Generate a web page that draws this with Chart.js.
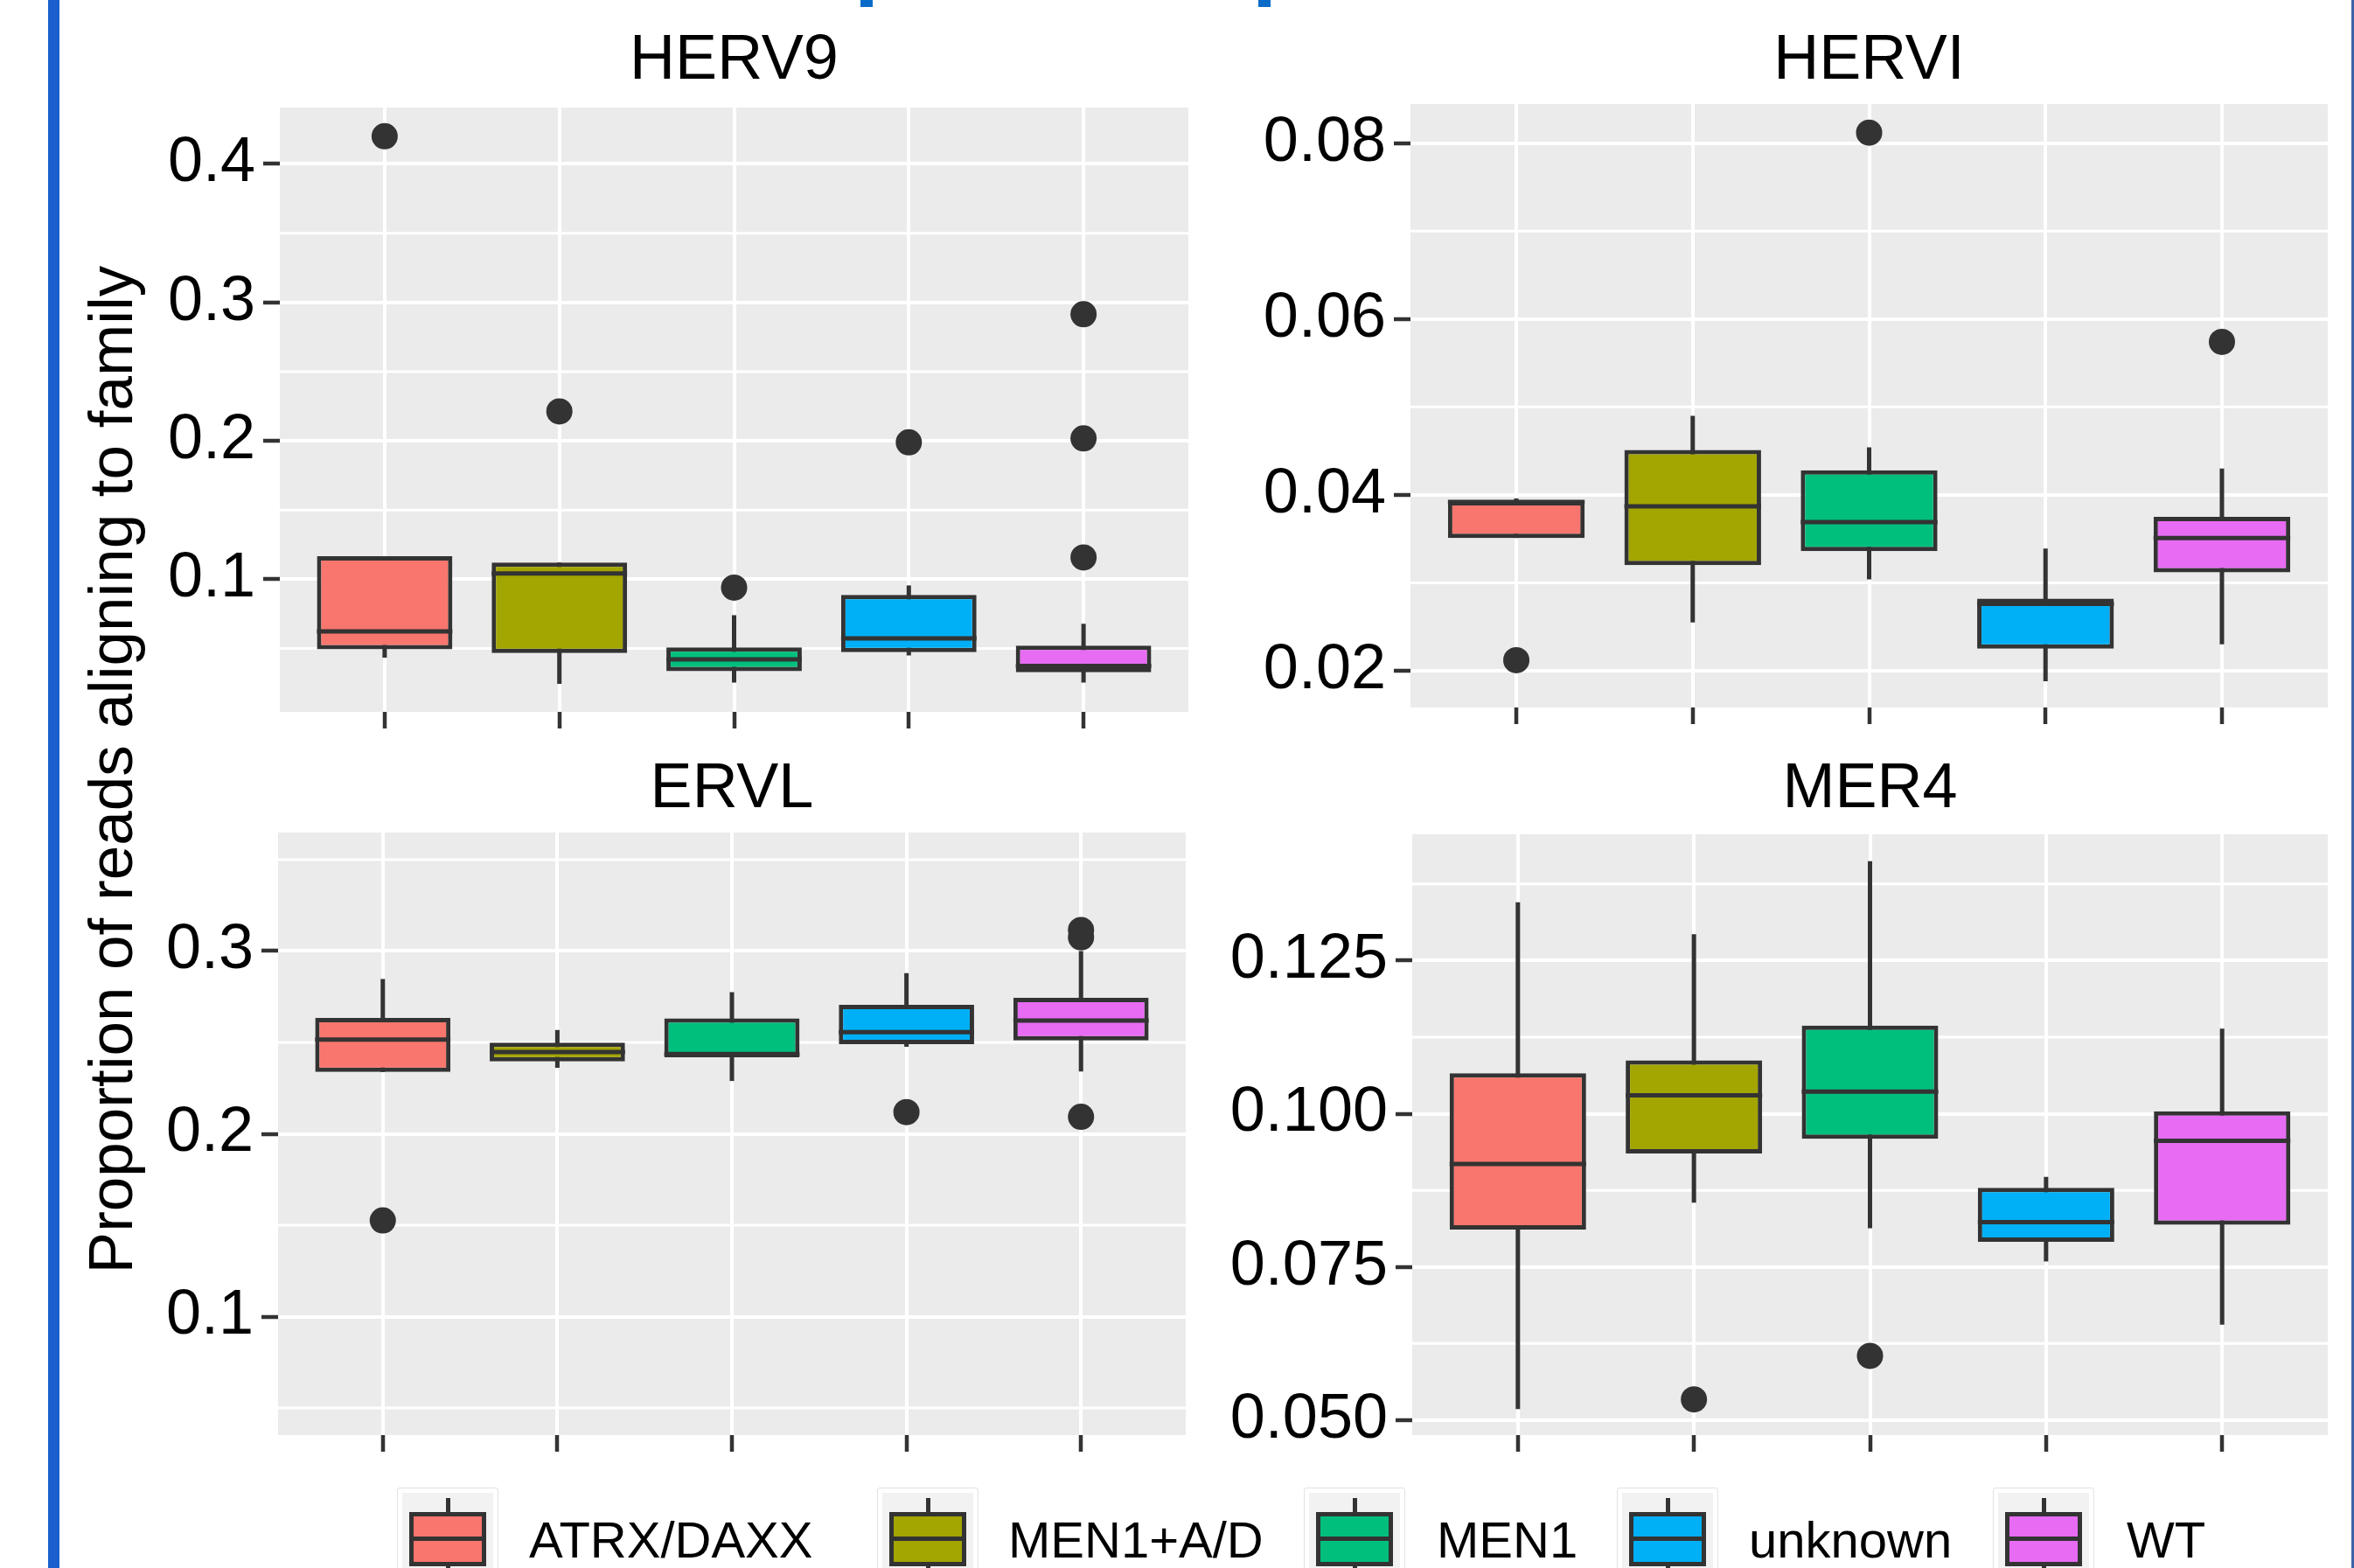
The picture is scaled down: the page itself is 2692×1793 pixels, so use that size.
<!DOCTYPE html>
<html>
<head>
<meta charset="utf-8">
<title>Reads aligning to family</title>
<script src="https://cdn.jsdelivr.net/npm/chart.js@4.4.1/dist/chart.umd.min.js"></script>
<style>
  html, body { margin: 0; padding: 0; background: #fff; }
  body {
    width: 2692px; height: 1793px; position: relative; overflow: hidden;
    font-family: "Liberation Sans", Arial, sans-serif;
  }
  canvas { position: absolute; }
  .deco { position: absolute; }
  #ytitle {
    position: absolute; left: -573px; top: 844px; width: 1400px; height: 72px;
    line-height: 72px; font-size: 71px; text-align: center; color: #000;
    transform: rotate(-90deg); white-space: nowrap;
  }
  .key-bg {
    position: absolute; top: 1701px; width: 114px; height: 120px;
    background: #F2F2F2; border: 1px solid #e2e2e2; border-radius: 3px;
    box-shadow: inset 0 0 0 5px #fff;
  }
  .key-box {
    position: absolute; top: 1729px; width: 88px; height: 62px; box-sizing: border-box;
    border: 5px solid #333;
  }
  .key-line { position: absolute; background: #333; }
  .key-label {
    position: absolute; top: 1732px; font-size: 58px; line-height: 58px; color: #000; white-space: nowrap;
  }
</style>
</head>
<body>

<div class="deco" style="left:55px;top:0;width:13px;height:1793px;background:#1b5fce"></div>
<div class="deco" style="left:984px;top:0;width:14px;height:8px;background:#0b6bc9"></div>
<div class="deco" style="left:1439px;top:0;width:14px;height:8px;background:#0b6bc9"></div>
<div class="deco" style="left:2689px;top:0;width:3px;height:1793px;background:#3c64a8"></div>

<div id="ytitle">Proportion of reads aligning to family</div>

<canvas id="c-herv9"></canvas>
<canvas id="c-hervi"></canvas>
<canvas id="c-ervl"></canvas>
<canvas id="c-mer4"></canvas>

<div id="legend"></div>

<script>
// Groups (fill colours follow ggplot's default hue palette)
const groups = ['ATRX/DAXX', 'MEN1+A/D', 'MEN1', 'unknown', 'WT'];
const groupColors = ['#F8766D', '#A3A500', '#00BF7D', '#00B0F6', '#E76BF3'];

// HERV9
const herv9Low  = [0.0433, 0.0243, 0.0253, 0.0449, 0.0253];
const herv9Q1   = [0.0493, 0.0466, 0.0335, 0.0472, 0.0328];
const herv9Med  = [0.0623, 0.1041, 0.0421, 0.0572, 0.0373];
const herv9Q3   = [0.1166, 0.1120, 0.0507, 0.0887, 0.0520];
const herv9High = [0.1166, 0.1120, 0.0740, 0.0955, 0.0678];
const herv9Out  = [[0.420], [0.2212], [0.0939], [0.1989], [0.2914, 0.2017, 0.1157]];
const herv9Ticks = [0.1, 0.2, 0.3, 0.4];
const herv9TickLabels = ['0.1', '0.2', '0.3', '0.4'];

// HERVI
const herviLow  = [0.0351, 0.0255, 0.0304, 0.0188, 0.0230];
const herviQ1   = [0.0351, 0.0320, 0.0336, 0.0225, 0.0312];
const herviMed  = [0.0392, 0.0387, 0.0369, 0.0276, 0.0351];
const herviQ3   = [0.0393, 0.0451, 0.0428, 0.0282, 0.0375];
const herviHigh = [0.0396, 0.0490, 0.0454, 0.0339, 0.0430];
const herviOut  = [[0.0212], [], [0.0812], [], [0.0574]];
const herviTicks = [0.02, 0.04, 0.06, 0.08];
const herviTickLabels = ['0.02', '0.04', '0.06', '0.08'];

// ERVL
const ervlLow  = [0.2338, 0.2361, 0.2289, 0.2476, 0.2341];
const ervlQ1   = [0.2338, 0.2396, 0.2419, 0.2490, 0.2511];
const ervlMed  = [0.2516, 0.2447, 0.2436, 0.2556, 0.2620];
const ervlQ3   = [0.2634, 0.2499, 0.2632, 0.2706, 0.2744];
const ervlHigh = [0.2847, 0.2568, 0.2775, 0.2879, 0.3000];
const ervlOut  = [[0.1526], [], [], [0.2119], [0.3115, 0.3075, 0.2093]];
const ervlTicks = [0.1, 0.2, 0.3];
const ervlTickLabels = ['0.1', '0.2', '0.3'];

// MER4
const mer4Low  = [0.0518, 0.0855, 0.0813, 0.0759, 0.0656];
const mer4Q1   = [0.0811, 0.0935, 0.0959, 0.0791, 0.0819];
const mer4Med  = [0.0918, 0.1030, 0.1036, 0.0823, 0.0956];
const mer4Q3   = [0.1066, 0.1087, 0.1144, 0.0879, 0.1004];
const mer4High = [0.1345, 0.1293, 0.1412, 0.0897, 0.1139];
const mer4Out  = [[], [0.0534], [0.0605], [], []];
const mer4Ticks = [0.050, 0.075, 0.100, 0.125];
const mer4TickLabels = ['0.050', '0.075', '0.100', '0.125'];

Chart.defaults.font.family = "'Liberation Sans', Arial, sans-serif";

const DARK = '#333333';
const LW = 5;

// panel background, minor grid, whiskers and medians
function boxPlugin(stats, ticks) {
  return {
    id: 'boxParts',
    beforeDraw(chart) {
      const { ctx, chartArea: a, scales: { y } } = chart;
      ctx.save();
      ctx.fillStyle = '#EBEBEB';
      ctx.fillRect(a.left, a.top, a.right - a.left, a.bottom - a.top);
      // minor lines halfway between the major ones
      const step = ticks[1] - ticks[0];
      const minors = ticks.map(v => v - step / 2).concat([ticks[ticks.length - 1] + step / 2]);
      ctx.strokeStyle = '#fff';
      ctx.lineWidth = 3;
      minors.forEach(v => {
        if (v <= y.min || v >= y.max) return;
        const py = y.getPixelForValue(v);
        ctx.beginPath();
        ctx.moveTo(a.left, py);
        ctx.lineTo(a.right, py);
        ctx.stroke();
      });
      ctx.restore();
    },
    beforeDatasetsDraw(chart) {
      const { ctx, scales: { x, y } } = chart;
      ctx.save();
      ctx.strokeStyle = DARK;
      ctx.lineWidth = LW;
      stats.low.forEach((lo, i) => {
        const px = x.getPixelForValue(i + 1);
        ctx.beginPath();
        ctx.moveTo(px, y.getPixelForValue(lo));
        ctx.lineTo(px, y.getPixelForValue(stats.high[i]));
        ctx.stroke();
      });
      ctx.restore();
    },
    afterDatasetsDraw(chart) {
      const { ctx, scales: { y } } = chart;
      const meta = chart.getDatasetMeta(0);
      ctx.save();
      ctx.strokeStyle = DARK;
      ctx.lineWidth = LW;
      meta.data.forEach((bar, i) => {
        const { x: bx, width } = bar.getProps(['x', 'width'], true);
        const py = y.getPixelForValue(stats.med[i]);
        ctx.beginPath();
        ctx.moveTo(bx - width / 2, py);
        ctx.lineTo(bx + width / 2, py);
        ctx.stroke();
      });
      ctx.restore();
    }
  };
}

function makePanel(id, title, stats, ticks, tickLabels, box) {
  const canvas = document.getElementById(id);
  canvas.width = box.width;
  canvas.height = box.height;
  canvas.style.left = box.left + 'px';
  canvas.style.top = box.top + 'px';

  const outliers = [];
  stats.out.forEach((vals, i) => vals.forEach(v => outliers.push({ x: i + 1, y: v })));

  return new Chart(canvas.getContext('2d'), {
    type: 'bar',
    data: {
      datasets: [{
        type: 'bar',
        data: groups.map((g, i) => ({ x: i + 1, y: [stats.q1[i], stats.q3[i]] })),
        backgroundColor: groupColors,
        borderColor: DARK,
        borderWidth: LW,
        borderSkipped: false,
        barPercentage: 0.775,
        categoryPercentage: 1,
        order: 1
      }, {
        type: 'scatter',
        data: outliers,
        pointRadius: 15,
        pointHoverRadius: 15,
        pointBackgroundColor: DARK,
        pointBorderWidth: 0,
        order: 0
      }]
    },
    options: {
      responsive: false,
      animation: false,
      layout: { padding: 0, autoPadding: false },
      plugins: {
        legend: { display: false },
        tooltip: { enabled: false },
        title: {
          display: true,
          text: title,
          fullSize: false,
          color: '#000',
          font: { size: 72, weight: 'normal' },
          padding: { top: box.padTop, bottom: box.padBottom }
        }
      },
      scales: {
        x: {
          type: 'linear',
          min: 0.4,
          max: 5.6,
          offset: false,
          afterBuildTicks: axis => { axis.ticks = groups.map((g, i) => ({ value: i + 1 })); },
          afterFit: axis => { axis.height = 70; },
          ticks: { display: false },
          grid: { offset: false, color: '#fff', lineWidth: 4, tickLength: 19, tickColor: DARK, tickWidth: 4.5 },
          border: { display: false }
        },
        y: {
          min: box.yMin,
          max: box.yMax,
          afterBuildTicks: axis => { axis.ticks = ticks.map(v => ({ value: v })); },
          afterFit: axis => { axis.width = 230; },
          ticks: {
            callback: (v, i) => tickLabels[i],
            color: '#000',
            font: { size: 72 },
            padding: 9,
            autoSkip: false
          },
          grid: { color: '#fff', lineWidth: 4, tickLength: 19, tickColor: DARK, tickWidth: 4.5 },
          border: { display: false }
        }
      }
    },
    plugins: [boxPlugin(stats, ticks)]
  });
}

makePanel('c-herv9', 'HERV9',
  { low: herv9Low, q1: herv9Q1, med: herv9Med, q3: herv9Q3, high: herv9High, out: herv9Out },
  herv9Ticks, herv9TickLabels,
  { left: 90, top: 0, width: 1269, height: 884, padTop: 27, padBottom: 9.6, yMin: 0.00415, yMax: 0.44075 });

makePanel('c-hervi', 'HERVI',
  { low: herviLow, q1: herviQ1, med: herviMed, q3: herviQ3, high: herviHigh, out: herviOut },
  herviTicks, herviTickLabels,
  { left: 1383, top: 0, width: 1279, height: 879, padTop: 27, padBottom: 5.6, yMin: 0.015823, yMax: 0.084445 });

makePanel('c-ervl', 'ERVL',
  { low: ervlLow, q1: ervlQ1, med: ervlMed, q3: ervlQ3, high: ervlHigh, out: ervlOut },
  ervlTicks, ervlTickLabels,
  { left: 88, top: 850, width: 1268, height: 861, padTop: 10, padBottom: 5.6, yMin: 0.03517, yMax: 0.36483 });

makePanel('c-mer4', 'MER4',
  { low: mer4Low, q1: mer4Q1, med: mer4Med, q3: mer4Q3, high: mer4High, out: mer4Out },
  mer4Ticks, mer4TickLabels,
  { left: 1385, top: 850, width: 1277, height: 861, padTop: 10, padBottom: 7.6, yMin: 0.04757, yMax: 0.1456 });

// legend along the bottom edge
const keyLeft = [454, 1003, 1491, 1849, 2279];
const labelLeft = [605, 1153, 1643, 2000, 2432];
const legend = document.getElementById('legend');
groups.forEach((g, i) => {
  const k = keyLeft[i];
  legend.insertAdjacentHTML('beforeend',
    `<div class="key-bg" style="left:${k}px"></div>` +
    `<div class="key-line" style="left:${k + 55.5}px;top:1713px;width:5px;height:18px"></div>` +
    `<div class="key-line" style="left:${k + 55.5}px;top:1788px;width:5px;height:10px"></div>` +
    `<div class="key-box" style="left:${k + 14}px;background:${groupColors[i]}"></div>` +
    `<div class="key-line" style="left:${k + 14}px;top:1757px;width:88px;height:5px"></div>` +
    `<div class="key-label" style="left:${labelLeft[i]}px">${g}</div>`);
});
</script>
</body>
</html>
